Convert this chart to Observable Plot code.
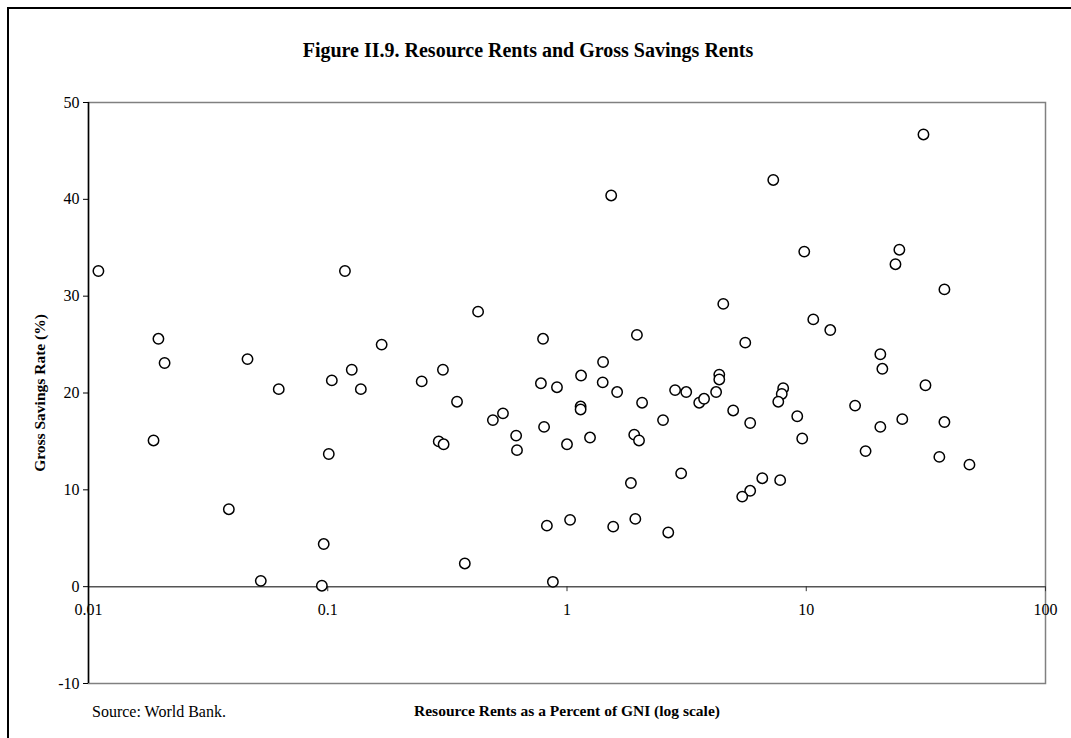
<!DOCTYPE html>
<html>
<head>
<meta charset="utf-8">
<script src="https://cdn.jsdelivr.net/npm/d3@7"></script>
<script src="https://cdn.jsdelivr.net/npm/@observablehq/plot@0.6"></script>
<style>
  html, body { margin: 0; padding: 0; background: #fff; }
  #wrap { position: relative; width: 1071px; height: 738px; overflow: hidden; font-family: "Liberation Serif", "Times New Roman", serif; color: #000; }
  #border { position: absolute; left: 7px; top: 7px; width: 1100px; height: 800px; border-left: 2px solid #000; border-top: 2px solid #000; }
  #title { position: absolute; left: 528px; top: 50px; transform: translate(-50%, -50%); white-space: nowrap; font-weight: bold; font-size: 20px; }
  #ylab { position: absolute; left: 40px; top: 393px; transform: translate(-50%, -50%) rotate(-90deg); white-space: nowrap; font-weight: bold; font-size: 15.5px; }
  #xlab { position: absolute; left: 567px; top: 711px; transform: translate(-50%, -50%); white-space: nowrap; font-weight: bold; font-size: 15.5px; }
  #source { position: absolute; left: 92px; top: 712px; transform: translate(0, -50%); white-space: nowrap; font-size: 16px; }
  #chart { position: absolute; left: 0; top: 80px; }
</style>
</head>
<body>
<div id="wrap">
  <div id="border"></div>
  <div id="title">Figure II.9. Resource Rents and Gross Savings Rents</div>
  <div id="ylab">Gross Savings Rate (%)</div>
  <div id="xlab">Resource Rents as a Percent of GNI (log scale)</div>
  <div id="source">Source: World Bank.</div>
  <div id="chart"></div>
</div>
<script>
// Resource rents (% of GNI, log scale)
const rents = [
  0.011, 0.118, 0.0196, 0.168, 1.53, 0.425, 0.794, 1.96, 4.50, 30.9,
  7.28, 9.81, 24.5, 23.6, 37.8, 10.7, 12.6, 5.56, 0.0208, 0.0462,
  0.0624, 0.104, 0.126, 0.1375, 0.0187, 0.101, 0.0386, 0.0962, 0.0525, 0.0945,
  0.247, 0.303, 0.347, 0.291, 0.305, 0.490, 0.540, 0.613, 0.618, 0.778,
  0.908, 0.802, 1.0, 1.145, 1.14, 1.14, 1.248, 1.415, 1.41, 1.62,
  2.06, 1.91, 2.0, 2.52, 2.83, 3.15, 3.57, 3.74, 4.20, 4.33,
  4.33, 4.95, 1.85, 3.0, 0.824, 1.03, 1.56, 1.93, 2.65, 0.374,
  0.873, 20.4, 20.8, 31.5, 5.83, 8.01, 7.9, 7.64, 9.17, 9.62,
  16.0, 20.4, 25.2, 37.8, 17.7, 36.0, 48.1, 6.55, 7.78, 5.83,
  5.40
];
// Gross savings rate (%)
const savings = [
  32.6, 32.6, 25.6, 25.0, 40.4, 28.4, 25.6, 26.0, 29.2, 46.7,
  42.0, 34.6, 34.8, 33.3, 30.7, 27.6, 26.5, 25.2, 23.1, 23.5,
  20.4, 21.3, 22.4, 20.4, 15.1, 13.7, 8.0, 4.4, 0.6, 0.1,
  21.2, 22.4, 19.1, 15.0, 14.7, 17.2, 17.9, 15.6, 14.1, 21.0,
  20.6, 16.5, 14.7, 21.8, 18.6, 18.3, 15.4, 23.2, 21.1, 20.1,
  19.0, 15.7, 15.1, 17.2, 20.3, 20.1, 19.0, 19.4, 20.1, 21.9,
  21.4, 18.2, 10.7, 11.7, 6.3, 6.9, 6.2, 7.0, 5.6, 2.4,
  0.5, 24.0, 22.5, 20.8, 16.9, 20.5, 19.9, 19.1, 17.6, 15.3,
  18.7, 16.5, 17.3, 17.0, 14.0, 13.4, 12.6, 11.2, 11.0, 9.9,
  9.3
];
const xTicks = [0.01, 0.1, 1, 10, 100];
const xTickLabels = ["0.01", "0.1", "1", "10", "100"];
const yTicks = [-10, 0, 10, 20, 30, 40, 50];
const xDomain = [0.01, 100];
const yDomain = [-10, 50];
const xAxisCrossing = 0;

const data = rents.map((r, i) => ({rent: r, saving: savings[i]}));
const tickData = xTicks.map((t, i) => ({t, label: xTickLabels[i]}));

const chart = Plot.plot({
  width: 1071,
  height: 643,
  marginLeft: 88,
  marginRight: 26,
  marginTop: 22,
  marginBottom: 40,
  style: {fontFamily: "Liberation Serif, Times New Roman, serif", fontSize: "16px", color: "#000", background: "transparent"},
  x: {type: "log", domain: xDomain, axis: null},
  y: {domain: yDomain, axis: null},
  marks: [
    Plot.frame({stroke: "#808080", strokeWidth: 1.5}),
    Plot.ruleY([xAxisCrossing], {stroke: "#555", strokeWidth: 1.5}),
    Plot.ruleX(tickData, {x: "t", y1: xAxisCrossing, y2: xAxisCrossing, insetTop: 0, insetBottom: -5, stroke: "#333", strokeWidth: 1}),
    Plot.text(tickData, {x: "t", y: xAxisCrossing, text: "label", dy: 23, fill: "#000", fontSize: 16}),
    Plot.axisY(yTicks, {tickSize: 5, tickPadding: 4, label: null, fontSize: 16, stroke: "#000", tickFormat: (d) => String(d)}),
    Plot.ruleX([xDomain[0]], {stroke: "#000", strokeWidth: 1.5}),
    Plot.dot(data, {x: "rent", y: "saving", r: 5.2, fill: "white", stroke: "#000", strokeWidth: 1.5})
  ]
});
document.getElementById("chart").appendChild(chart);
</script>
</body>
</html>
